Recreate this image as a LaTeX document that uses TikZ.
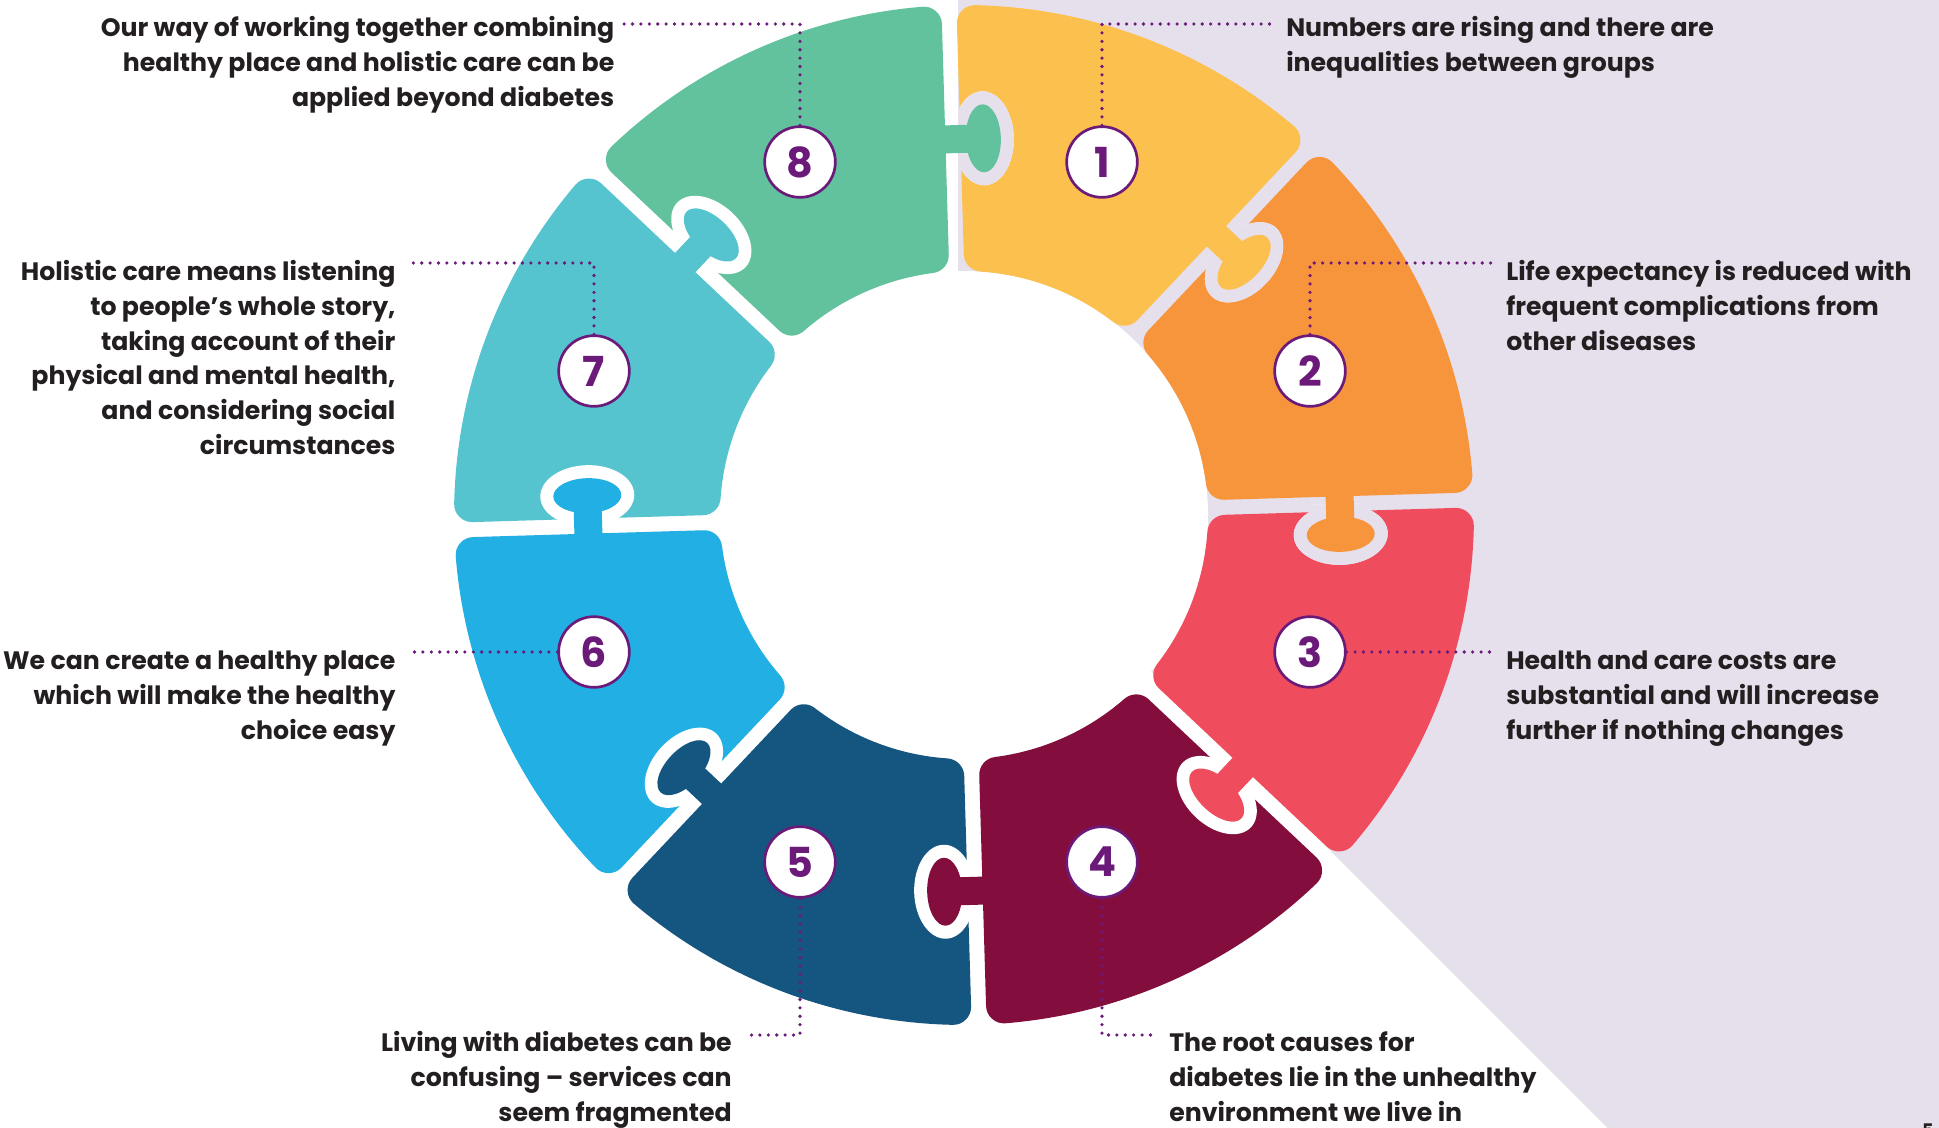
\documentclass[tikz,border=0pt]{standalone}
\usepackage{fontspec}
\setmainfont{Poppins}

\definecolor{pyellow}{HTML}{FCC04E}
\definecolor{porange}{HTML}{F7953D}
\definecolor{pred}{HTML}{EF4D5E}
\definecolor{pwine}{HTML}{830E3E}
\definecolor{pnavy}{HTML}{155681}
\definecolor{pblue}{HTML}{21AFE4}
\definecolor{pteal}{HTML}{56C4CF}
\definecolor{pgreen}{HTML}{62C29D}
\definecolor{plilac}{HTML}{E6DFEC}
\definecolor{ppurple}{HTML}{6B1A7A}
\definecolor{ptext}{HTML}{231F20}

\tikzset{
  ring/.style={shift={(964,515)}, yscale=-1, rotate=1.7},
  piece/.style={line width=27pt, line join=round},
  numcirc/.style={circle, draw=ppurple, line width=2pt, fill=white, minimum size=53pt, inner sep=0pt, text=ppurple, font=\fontsize{31}{31}\selectfont\bfseries},
  leader/.style={draw=ppurple, line width=2.7pt, line cap=round, dash pattern=on 0pt off 6.3pt},
  lbl/.style={inner sep=0pt, text=ptext, font=\fontsize{18.9}{26}\selectfont\bfseries},
}

% hole for the knob of the piece before
\newcommand{\notchcut}[1]{%
  \fill[#1] (349,0) rectangle (403,-30.5);
  \fill[#1] (376,-30.5) ellipse [x radius=47, y radius=30.5];
}
% knob into the piece after
\newcommand{\tabknob}[1]{%
  \fill[#1] (362,11.5) rectangle (390,-30.5);
  \fill[#1] (376,-30.5) ellipse [x radius=34, y radius=17.5];
}

\begin{document}
\begin{tikzpicture}[x=0.75pt,y=0.75pt,yscale=-1,xscale=1]
    \useasboundingbox (0,0) rectangle (1939,1128);

    % background
    \fill[white] (0,0) rectangle (1939,1128);
    \fill[plilac] (958,0) -- (1939,0) -- (1939,1128) -- (1607.6,1128) -- (958,478.4) -- cycle;
    \fill[white] (964,515) circle [radius=244];

    % pieces
    \begin{scope}[ring]
      \foreach \k/\col in {1/pyellow,2/porange,3/pred,4/pwine,5/pnavy,6/pblue,7/pteal,8/pgreen}{
        \pgfmathsetmacro{\angA}{90-45*\k}
        \pgfmathsetmacro{\angB}{\angA+45}
        \filldraw[piece, fill=\col, draw=\col]
          ({\angA+2.97}:492) arc [start angle={\angA+2.97}, end angle={\angB-2.97}, radius=492]
          -- ({\angB-5.59}:262) arc [start angle={\angB-5.59}, end angle={\angA+5.59}, radius=262] -- cycle;
      }
      \foreach \k in {1,...,8}{
        \begin{scope}[rotate=90-45*\k] \notchcut{white} \end{scope}
      }
    \end{scope}
    \begin{scope}
      \clip (958,0) -- (1939,0) -- (1939,1128) -- (1607.6,1128) -- (958,478.4) -- cycle;
      \begin{scope}[ring]
        \foreach \k in {1,...,8}{
          \begin{scope}[rotate=90-45*\k] \notchcut{plilac} \end{scope}
        }
      \end{scope}
    \end{scope}
    % knobs
    \begin{scope}[ring]
      \foreach \k/\col in {1/pyellow,2/porange,3/pred,4/pwine,5/pnavy,6/pblue,7/pteal,8/pgreen}{
        \begin{scope}[rotate=90-45*\k] \tabknob{\col} \end{scope}
      }
    \end{scope}

    % numbers
    \node[numcirc] (c1) at (1102,162) {1};
    \node[numcirc] (c2) at (1310,371) {2};
    \node[numcirc] (c3) at (1310,652) {3};
    \node[numcirc] (c4) at (1102,862) {4};
    \node[numcirc] (c5) at (800,862) {5};
    \node[numcirc] (c6) at (594,652) {6};
    \node[numcirc] (c7) at (594,371) {7};
    \node[numcirc] (c8) at (800,162) {8};

    % leader ends
    \coordinate (e1) at (1275,24);
    \coordinate (e2) at (1495,263);
    \coordinate (e3) at (1495,652);
    \coordinate (e4) at (1157,1035);
    \coordinate (e5) at (748,1035);
    \coordinate (e6) at (412,652);
    \coordinate (e7) at (412,263);
    \coordinate (e8) at (624,24);
    \draw[leader] (c1.north) |- (e1);
    \draw[leader] (c2.north) |- (e2);
    \draw[leader] (c3.east) -- (e3);
    \draw[leader] (c4.south) |- (e4);
    \draw[leader] (c5.south) |- (e5);
    \draw[leader] (c6.west) -- (e6);
    \draw[leader] (c7.north) |- (e7);
    \draw[leader] (c8.north) |- (e8);

    % Text Node (base = last line)
    \node[lbl, anchor=base west, align=left] (l1) at (1286,71.4) {Numbers are rising and there are\\inequalities between groups};
    % Text Node
    \node[lbl, anchor=base west, align=left] (l2) at (1506,350) {Life expectancy is reduced with\\frequent complications from\\other diseases};
    % Text Node
    \node[lbl, anchor=base west, align=left] (l3) at (1506,739.3) {Health and care costs are\\substantial and will increase\\further if nothing changes};
    % Text Node
    \node[lbl, anchor=base west, align=left] (l4) at (1169,1121.3) {The root causes for\\diabetes lie in the unhealthy\\environment we live in};
    % Text Node
    \node[lbl, anchor=base east, align=right] (l5) at (732,1121.3) {Living with diabetes can be\\confusing – services can\\seem fragmented};
    % Text Node
    \node[lbl, anchor=base east, align=right] (l6) at (395.7,739.3) {We can create a healthy place\\which will make the healthy\\choice easy};
    % Text Node
    \node[lbl, anchor=base east, align=right] (l7) at (395.7,454) {Holistic care means listening\\to people’s whole story,\\taking account of their\\physical and mental health,\\and considering social\\circumstances};
    % Text Node
    \node[lbl, anchor=base east, align=right] (l8) at (614.6,106) {Our way of working together combining\\healthy place and holistic care can be\\applied beyond diabetes};
    % page number
    \node[inner sep=0pt, anchor=north west, text=ptext, font=\fontsize{13}{13}\selectfont\bfseries] (pg) at (1922,1124) {5};
\end{tikzpicture}
\end{document}
